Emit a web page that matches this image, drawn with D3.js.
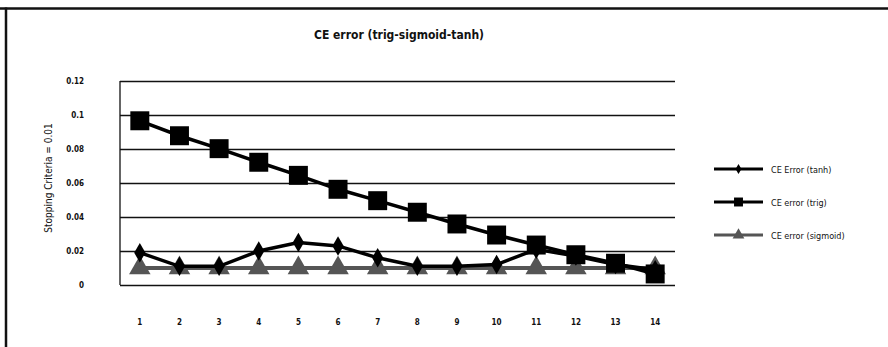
<!DOCTYPE html>
<html>
<head>
<meta charset="utf-8">
<script src="https://cdn.jsdelivr.net/npm/d3@7"></script>
<style>
  body { margin: 0; background: #fff; }
  svg text { font-family: "Liberation Sans Narrow", "DejaVu Sans Condensed", sans-serif; }
</style>
</head>
<body>
<div id="chart"></div>
<script>
// chart values
const categories = ["1","2","3","4","5","6","7","8","9","10","11","12","13","14"];
const tanhErr = [0.019, 0.011, 0.011, 0.020, 0.025, 0.023, 0.016, 0.011, 0.011, 0.012, 0.021, 0.017, 0.012, 0.009];
const trigErr = [0.0966, 0.0878, 0.0802, 0.0722, 0.0645, 0.0563, 0.0496, 0.0428, 0.0359, 0.0294, 0.0235, 0.0178, 0.0128, 0.0065];
const sigmoidErr = [0.01, 0.01, 0.01, 0.01, 0.01, 0.01, 0.01, 0.01, 0.01, 0.01, 0.01, 0.01, 0.01, 0.01];
const yTicks = [0, 0.02, 0.04, 0.06, 0.08, 0.1, 0.12];
const seriesNames = ["CE Error (tanh)", "CE error (trig)", "CE error (sigmoid)"];

const width = 888, height = 347;
const margin = {top: 81, right: 213, bottom: 62, left: 120};

let svg = d3.select("#chart")
    .append("svg")
    .attr("width", width)
    .attr("height", height);

// frame (only top and left edges are visible)
svg.append("line").attr("x1", 0).attr("x2", width).attr("y1", 8.5).attr("y2", 8.5)
    .attr("stroke", "#111").attr("stroke-width", 2.5);
svg.append("line").attr("x1", 6).attr("x2", 6).attr("y1", 7.5).attr("y2", height)
    .attr("stroke", "#111").attr("stroke-width", 2.5);

let x = d3.scaleBand()
    .domain(categories)
    .range([margin.left, width - margin.right]);

let y = d3.scaleLinear()
    .domain([0, 0.12])
    .range([height - margin.bottom, margin.top]);

// gridlines
svg.append("g")
    .attr("transform", `translate(${margin.left},0)`)
    .call(d3.axisLeft(y).tickValues(yTicks)
        .tickSize(-(width - margin.left - margin.right))
        .tickFormat(d => d3.format("")(+d.toFixed(2))).tickPadding(36))
    .call(g => g.select(".domain").remove())
    .call(g => g.selectAll(".tick line").attr("stroke", "#111").attr("stroke-width", 1.3))
    .call(g => g.selectAll(".tick text").attr("font-size", 8).attr("font-weight", "bold").attr("fill", "#111"));

// left axis line
svg.append("line")
    .attr("x1", margin.left).attr("x2", margin.left)
    .attr("y1", y(0.12)).attr("y2", y(0))
    .attr("stroke", "#111").attr("stroke-width", 1.3);

// x tick labels
svg.append("g")
    .attr("transform", `translate(0,${y(0)})`)
    .call(d3.axisBottom(x).tickSize(0).tickPadding(34))
    .call(g => g.select(".domain").remove())
    .call(g => g.selectAll(".tick text").attr("font-size", 8).attr("font-weight", "bold").attr("fill", "#111"));

// title
svg.append("text")
    .attr("x", 399).attr("y", 39)
    .attr("text-anchor", "middle")
    .attr("font-size", 12).attr("font-weight", "bold").attr("fill", "#111")
    .text("CE error (trig-sigmoid-tanh)");

// y axis title
svg.append("text")
    .attr("transform", `translate(52, 178) rotate(-90)`)
    .attr("text-anchor", "middle")
    .attr("font-size", 10).attr("fill", "#111")
    .text("Stopping Criteria = 0.01");

const cx = i => x(categories[i]) + x.bandwidth() / 2;
const line = d3.line().x((d, i) => cx(i)).y(d => y(d));

const series = [
  {name: seriesNames[2], values: sigmoidErr, color: "#555", width: 4, symbol: d3.symbolTriangle, size: 200},
  {name: seriesNames[0], values: tanhErr, color: "#000", width: 3.5, symbol: d3.symbolDiamond, size: 110},
  {name: seriesNames[1], values: trigErr, color: "#000", width: 3.5, symbol: d3.symbolSquare, size: 360}
];

series.forEach(s => {
  svg.append("path")
      .datum(s.values)
      .attr("fill", "none")
      .attr("stroke", s.color)
      .attr("stroke-width", s.width)
      .attr("d", line);
  svg.append("g").selectAll("path")
      .data(s.values)
      .enter().append("path")
      .attr("transform", (d, i) => `translate(${cx(i)},${y(d)})`)
      .attr("d", d3.symbol().type(s.symbol).size(s.size))
      .attr("fill", s.color);
});

// legend
const legendItems = [
  {name: seriesNames[0], color: "#000", symbol: d3.symbolDiamond, size: 30},
  {name: seriesNames[1], color: "#000", symbol: d3.symbolSquare, size: 80},
  {name: seriesNames[2], color: "#555", symbol: d3.symbolTriangle, size: 60}
];
let legend = svg.append("g");
legendItems.forEach((d, i) => {
  let ly = 169 + i * 33;
  legend.append("line").attr("x1", 714).attr("x2", 763).attr("y1", ly).attr("y2", ly)
      .attr("stroke", d.color).attr("stroke-width", 3);
  legend.append("path").attr("transform", `translate(738.5,${ly})`)
      .attr("d", d3.symbol().type(d.symbol).size(d.size)).attr("fill", d.color);
  legend.append("text").attr("x", 771).attr("y", ly + 3.5)
      .attr("font-size", 9).attr("fill", "#111")
      .text(d.name);
});
</script>
</body>
</html>
